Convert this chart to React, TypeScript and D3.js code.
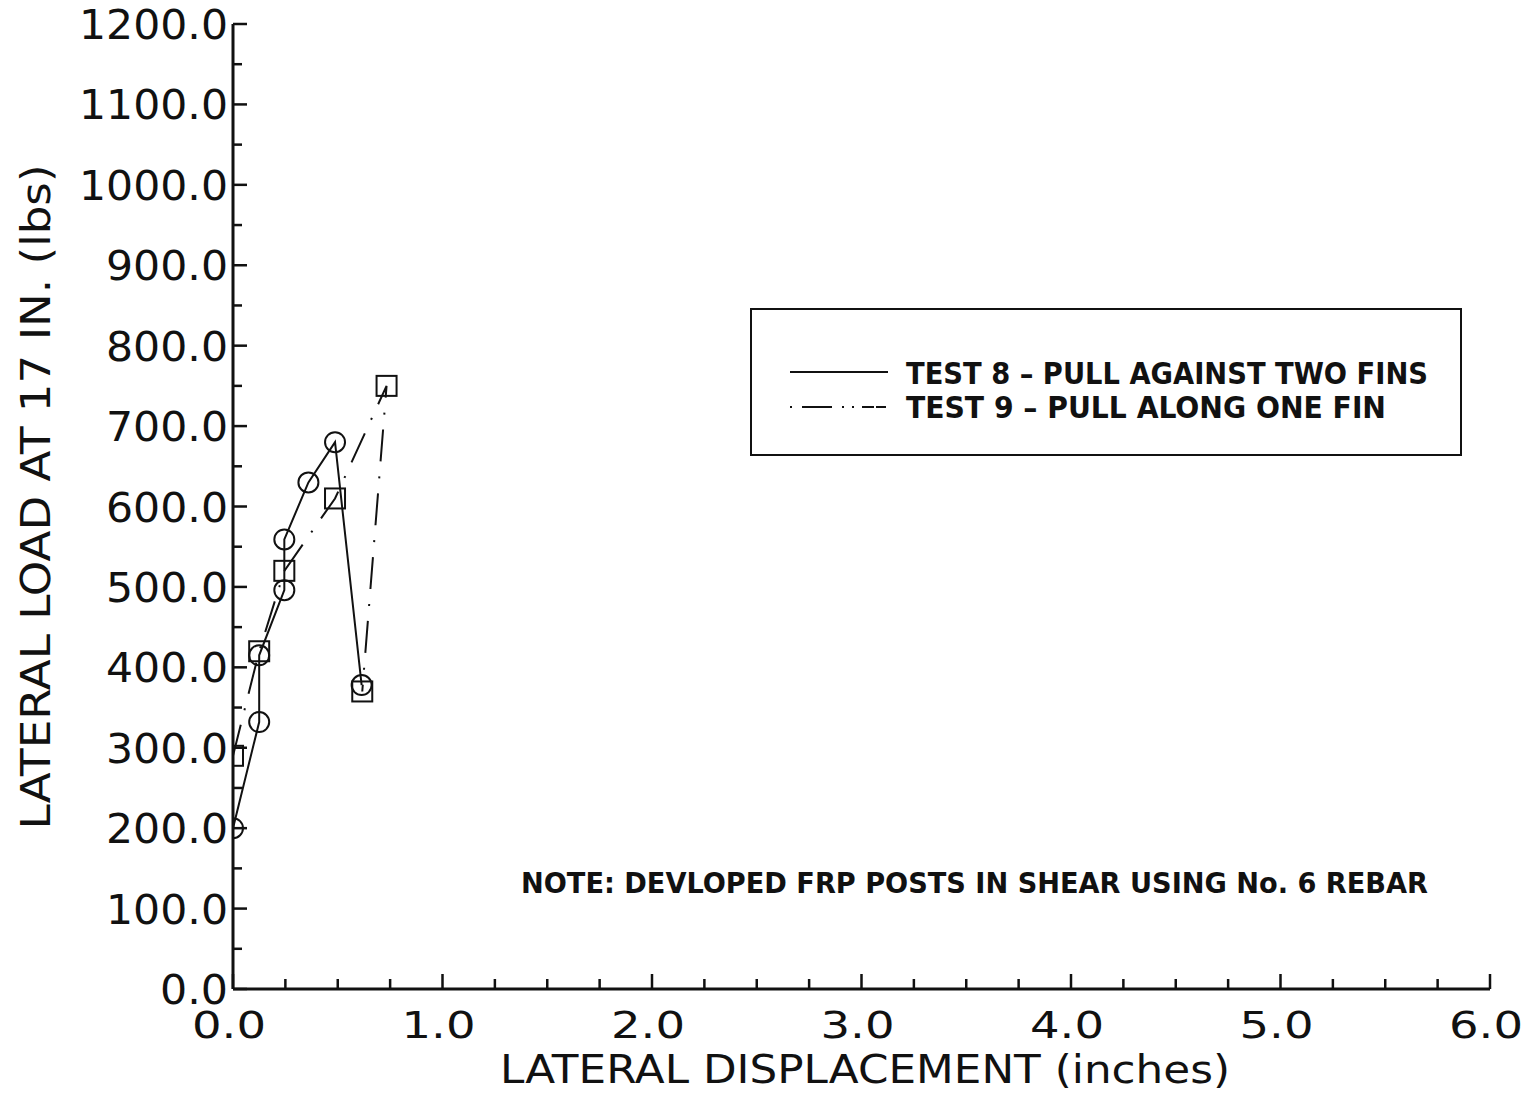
import React from "react";
import * as d3 from "d3";

const test8X = [0.0, 0.125, 0.125, 0.245, 0.245, 0.36, 0.487, 0.614];
const test8Y = [200, 332, 415, 496, 559, 630, 680, 378];
const test9X = [0.0, 0.125, 0.245, 0.487, 0.733, 0.617];
const test9Y = [290, 420, 520, 610, 750, 370];

const xMajor = [0, 1, 2, 3, 4, 5, 6];
const yMajor = [0, 100, 200, 300, 400, 500, 600, 700, 800, 900, 1000, 1100, 1200];
const legendLabels = ["TEST 8 \u2013 PULL AGAINST TWO FINS", "TEST 9 \u2013 PULL ALONG ONE FIN"];
const noteText = "NOTE: DEVLOPED FRP POSTS IN SHEAR USING No. 6 REBAR";
const xTitle = "LATERAL DISPLACEMENT (inches)";
const yTitle = "LATERAL LOAD AT 17 IN. (lbs)";

const W = 1531, H = 1095;
const x = d3.scaleLinear().domain([0, 6]).range([233, 1490]);
const y = d3.scaleLinear().domain([0, 1200]).range([989, 24]);

const tickFont = "'DejaVu Sans', Arial, sans-serif";
const boldFont = "'Liberation Sans Narrow', 'DejaVu Sans Condensed', Arial, sans-serif";

function labelWidth(s: string) {
  const digits = s.replace(".", "").length;
  return digits * 27 + 14;
}

export default function App() {
  const line = d3.line<[number, number]>().x((d) => x(d[0])).y((d) => y(d[1]));
  const s8 = test8X.map((v, i) => [v, test8Y[i]] as [number, number]);
  const s9 = test9X.map((v, i) => [v, test9Y[i]] as [number, number]);
  const xMinor = d3.range(0, 6.001, 0.25);
  const yMinor = d3.range(0, 1200.1, 50);
  return (
    <svg width={W} height={H} style={{ position: "absolute", left: 0, top: 0, background: "#fff" }}>
      <defs>
        <clipPath id="plot">
          <rect x={x(0)} y={0} width={x(6) - x(0) + 20} height={y(0)} />
        </clipPath>
      </defs>
      <rect x={0} y={0} width={W} height={H} fill="#fff" />
      {/* axes */}
      <line x1={x(0)} x2={x(0)} y1={y(0)} y2={y(1200)} stroke="#111" strokeWidth={3} />
      <line x1={x(0)} x2={x(6)} y1={y(0)} y2={y(0)} stroke="#111" strokeWidth={3} />
      {yMinor.map((v) => (
        <line key={"ym" + v} x1={x(0)} x2={x(0) + (v % 100 === 0 ? 14 : 9)} y1={y(v)} y2={y(v)} stroke="#111" strokeWidth={2.5} />
      ))}
      {xMinor.map((v) => (
        <line key={"xm" + v} x1={x(v)} x2={x(v)} y1={y(0)} y2={y(0) - (Math.abs(v - Math.round(v)) < 1e-6 ? 15 : 10)} stroke="#111" strokeWidth={2.5} />
      ))}
      {yMajor.map((v) => (
        <text key={"yl" + v} x={228} y={y(v) + 15} textAnchor="end" fontFamily={tickFont} fontSize={41} fill="#111"
          textLength={labelWidth(v.toFixed(1))} lengthAdjust="spacingAndGlyphs">{v.toFixed(1)}</text>
      ))}
      {xMajor.map((v) => (
        <text key={"xl" + v} x={x(v) - 4} y={1038} textAnchor="middle" fontFamily={tickFont} fontSize={38} fill="#111"
          textLength={74} lengthAdjust="spacingAndGlyphs">{v.toFixed(1)}</text>
      ))}
      <text x={865} y={1083} textAnchor="middle" fontFamily={tickFont} fontSize={39} fill="#111" textLength={730} lengthAdjust="spacingAndGlyphs">{xTitle}</text>
      <text transform="translate(50,497) rotate(-90)" textAnchor="middle" fontFamily={tickFont} fontSize={41} fill="#111" textLength={665} lengthAdjust="spacingAndGlyphs">{yTitle}</text>

      {/* data */}
      <g clipPath="url(#plot)">
        <path d={line(s8) || ""} fill="none" stroke="#111" strokeWidth={2} />
        <path d={line(s9) || ""} fill="none" stroke="#111" strokeWidth={2} strokeDasharray="32,15,2,15" />
        {s8.map((d, i) => (
          <circle key={"c" + i} cx={x(d[0])} cy={y(d[1])} r={10} fill="none" stroke="#111" strokeWidth={2} />
        ))}
        {s9.map((d, i) => (
          <rect key={"s" + i} x={x(d[0]) - 10} y={y(d[1]) - 10} width={20} height={20} fill="none" stroke="#111" strokeWidth={2} />
        ))}
      </g>

      {/* legend */}
      <rect x={751} y={309} width={710} height={146} fill="none" stroke="#111" strokeWidth={2} />
      <line x1={790} x2={888} y1={372} y2={372} stroke="#111" strokeWidth={2} />
      <line x1={790} x2={888} y1={407} y2={407} stroke="#111" strokeWidth={2} strokeDasharray="2,10,30,10,2,8,2,8,12" />
      <text x={906} y={384} fontFamily={boldFont} fontWeight="bold" fontSize={30} fill="#111" textLength={522} lengthAdjust="spacingAndGlyphs">{legendLabels[0]}</text>
      <text x={906} y={418} fontFamily={boldFont} fontWeight="bold" fontSize={30} fill="#111" textLength={480} lengthAdjust="spacingAndGlyphs">{legendLabels[1]}</text>

      <text x={521} y={893} fontFamily={boldFont} fontWeight="bold" fontSize={29} fill="#111" textLength={907} lengthAdjust="spacingAndGlyphs">{noteText}</text>
    </svg>
  );
}
